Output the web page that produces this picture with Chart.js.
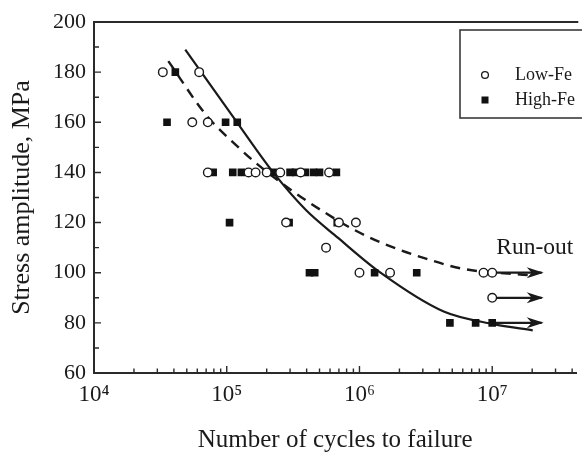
<!DOCTYPE html>
<html>
<head>
<meta charset="utf-8">
<script src="https://cdn.jsdelivr.net/npm/chart.js@4/dist/chart.umd.min.js"></script>
<style>
  html, body { margin: 0; padding: 0; background: #fff; overflow: hidden; }
  #wrap { width: 582px; height: 453px; }
</style>
</head>
<body>
<div id="wrap"><canvas id="c" width="582" height="453"></canvas></div>
<script>
// ---------- data ----------
const lowFeN = [3.3e4, 6.2e4, 5.5e4, 7.2e4, 7.2e4, 1.46e5, 1.65e5, 2.0e5, 2.53e5, 3.6e5, 5.9e5,
                2.8e5, 7.0e5, 9.4e5, 5.6e5, 1.0e6, 1.7e6, 8.6e6, 1.0e7, 1.0e7];
const lowFeS = [180, 180, 160, 160, 140, 140, 140, 140, 140, 140, 140,
                120, 120, 120, 110, 100, 100, 100, 100, 90];

const highFeN = [4.1e4, 3.55e4, 9.8e4, 1.2e5, 7.9e4, 1.11e5, 1.29e5, 2.24e5, 3.0e5, 3.3e5, 3.9e5,
                 4.5e5, 5.0e5, 6.7e5, 1.05e5, 2.95e5, 6.8e5, 4.2e5, 4.6e5, 1.3e6, 2.7e6,
                 4.8e6, 7.5e6, 1.0e7];
const highFeS = [180, 160, 160, 160, 140, 140, 140, 140, 140, 140, 140,
                 140, 140, 140, 120, 120, 120, 100, 100, 100, 100,
                 80, 80, 80];

// fitted curves
const solidN = [4.87e4, 1.09e5, 2.24e5, 3.95e5, 6.86e5, 1.44e6, 4.31e6, 1.02e7, 2.02e7];
const solidS = [189, 163, 140, 125, 114, 100, 84.5, 79.5, 77];
const dashN  = [3.63e4, 6.97e4, 1.17e5, 1.64e5, 3.05e5, 5.48e5, 9.19e5, 1.62e6, 3.21e6, 6.08e6, 1.95e7];
const dashS  = [184.4, 163, 151, 144, 133, 124, 117, 111, 105.5, 101.5, 99];

// run-out arrows
const runoutStartN = 1.0e7;
const runoutEndN = 2.36e7;
const runoutS = [100, 90, 80];

// axes
const xMin = 1e4, xMax = 4.3e7;
const xTickValues = [1e4, 1e5, 1e6, 1e7];
const xTickLabels = ['10\u2074', '10\u2075', '10\u2076', '10\u2077'];
const yMin = 60, yMax = 200, yStep = 20;

const seriesNames = ['Low-Fe', 'High-Fe'];
const xTitle = 'Number of cycles to failure';
const yTitle = 'Stress amplitude, MPa';
const runoutLabel = 'Run-out';

// ---------- styles ----------
const ink = '#1a1a1a';
const axisInk = '#2a2a2a';
const serif = "'Liberation Serif', 'Times New Roman', serif";

const pts = (xs, ys) => xs.map((v, i) => ({ x: v, y: ys[i] }));

const datasets = [
  {
    label: seriesNames[0], data: pts(lowFeN, lowFeS), order: 0,
    pointStyle: 'circle', pointRadius: 4.3, pointBorderWidth: 1.4,
    pointBackgroundColor: '#fff', pointBorderColor: ink, showLine: false
  },
  {
    label: seriesNames[1], data: pts(highFeN, highFeS), order: 1,
    pointStyle: 'rect', pointRadius: 5.4, pointBorderWidth: 0,
    pointBackgroundColor: '#111', pointBorderColor: '#111', showLine: false
  },
  {
    label: 'fit solid', data: pts(solidN, solidS), order: 3, showLine: true,
    borderColor: ink, borderWidth: 2.2, pointRadius: 0, tension: 0.4,
    cubicInterpolationMode: 'monotone', fill: false
  },
  {
    label: 'fit dashed', data: pts(dashN, dashS), order: 3, showLine: true,
    borderColor: ink, borderWidth: 2.4, borderDash: [10, 7], pointRadius: 0, tension: 0.4,
    cubicInterpolationMode: 'monotone', fill: false
  }
];
runoutS.forEach(s => {
  datasets.push({
    label: 'run-out ' + s, data: [{ x: runoutStartN, y: s }, { x: runoutEndN, y: s }],
    order: 2, showLine: true, borderColor: ink, borderWidth: 2.2, pointRadius: 0,
    arrow: true, fill: false
  });
});

const decor = {
  id: 'decor',
  afterDatasetsDraw(chart) {
    const { ctx, chartArea: a, scales: { x, y } } = chart;
    ctx.save();
    // inward tick marks
    ctx.strokeStyle = axisInk;
    ctx.lineWidth = 1.4;
    ctx.beginPath();
    for (let k = Math.log10(xMin); k <= Math.log10(xMax); k++) {
      for (let m = 1; m <= 9; m++) {
        const v = m * Math.pow(10, k);
        if (v <= xMin || v > xMax) continue;
        const px = x.getPixelForValue(v);
        const len = m === 1 ? 7 : 4.5;
        ctx.moveTo(px, a.bottom);
        ctx.lineTo(px, a.bottom - len);
      }
    }
    for (let v = yMin + yStep / 2; v < yMax; v += yStep / 2) {
      const py = y.getPixelForValue(v);
      const len = (v - yMin) % yStep === 0 ? 7 : 5;
      ctx.moveTo(a.left, py);
      ctx.lineTo(a.left + len, py);
    }
    ctx.stroke();
    // top frame line
    ctx.lineWidth = 2;
    ctx.beginPath();
    ctx.moveTo(a.left - 1, a.top);
    ctx.lineTo(a.right + 2, a.top);
    ctx.stroke();

    // arrowheads on run-out lines
    ctx.fillStyle = ink;
    chart.data.datasets.forEach((ds, i) => {
      if (!ds.arrow) return;
      const meta = chart.getDatasetMeta(i);
      const p = meta.data[meta.data.length - 1];
      const tx = p.x + 2, ty = p.y;
      ctx.beginPath();
      ctx.moveTo(tx, ty);
      ctx.lineTo(tx - 17, ty - 5.5);
      ctx.lineTo(tx - 12, ty);
      ctx.lineTo(tx - 17, ty + 5.5);
      ctx.closePath();
      ctx.fill();
    });

    // Run-out label
    ctx.fillStyle = ink;
    ctx.font = "23.5px " + serif;
    ctx.textBaseline = 'middle';
    ctx.textAlign = 'left';
    ctx.fillText(runoutLabel, x.getPixelForValue(runoutStartN) + 4, y.getPixelForValue(110));

    // legend box
    const bx = 460, by = 30, bw = 140, bh = 88;
    ctx.strokeStyle = '#3a3a3a';
    ctx.lineWidth = 1.6;
    ctx.strokeRect(bx, by, bw, bh);
    const rows = [75, 100];
    // circle marker
    ctx.beginPath();
    ctx.arc(485, rows[0], 3.4, 0, Math.PI * 2);
    ctx.fillStyle = '#fff';
    ctx.fill();
    ctx.lineWidth = 1.3;
    ctx.strokeStyle = ink;
    ctx.stroke();
    // square marker
    ctx.fillStyle = '#111';
    ctx.fillRect(485 - 3.5, rows[1] - 3.5, 7, 7);
    ctx.fillStyle = ink;
    ctx.font = "18px " + serif;
    ctx.fillText(seriesNames[0], 515, rows[0]);
    ctx.fillText(seriesNames[1], 515, rows[1]);
    ctx.restore();
  }
};

new Chart(document.getElementById('c'), {
  type: 'scatter',
  data: { datasets },
  options: {
    responsive: false,
    animation: false,
    events: [],
    layout: { padding: { top: 22, right: 0, left: 0, bottom: 0 } },
    plugins: { legend: { display: false }, tooltip: { enabled: false } },
    scales: {
      x: {
        type: 'logarithmic', min: xMin, max: xMax, position: 'bottom',
        afterFit: s => { s.height = 80; },
        afterBuildTicks: s => { s.ticks = xTickValues.map(v => ({ value: v })); },
        grid: { display: false, drawTicks: false },
        border: { display: true, color: axisInk, width: 2 },
        ticks: {
          autoSkip: false, maxRotation: 0, padding: 8, color: ink,
          font: { family: serif, size: 23 },
          callback: (v) => { const i = xTickValues.indexOf(v); return i >= 0 ? xTickLabels[i] : ''; }
        },
        title: {
          display: true, text: xTitle, color: ink,
          font: { family: serif, size: 25, lineHeight: 1 }, padding: { top: 0, bottom: 0 }
        }
      },
      y: {
        min: yMin, max: yMax,
        afterFit: s => { s.width = 94; },
        grid: { display: false, drawTicks: false },
        border: { display: true, color: axisInk, width: 2 },
        ticks: {
          stepSize: yStep, padding: 8, color: ink,
          font: { family: serif, size: 22 }
        },
        title: {
          display: true, text: yTitle, color: ink,
          font: { family: serif, size: 26, lineHeight: 1 }, padding: { top: 9, bottom: 0 }
        }
      }
    }
  },
  plugins: [decor]
});
</script>
</body>
</html>
